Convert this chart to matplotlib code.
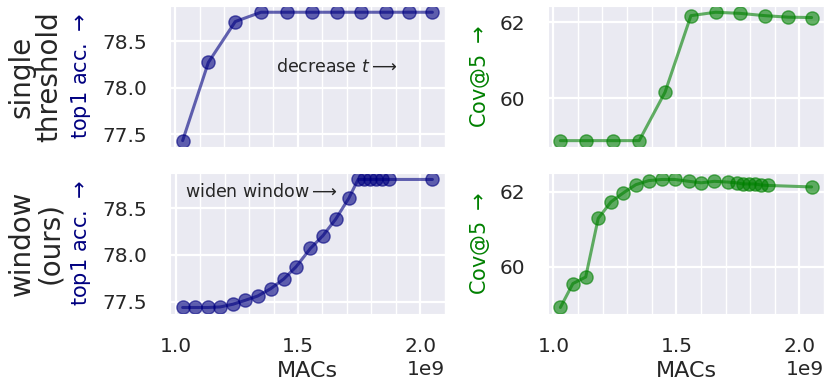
import numpy as np
import matplotlib
matplotlib.use("Agg")
import matplotlib.pyplot as plt
import seaborn as sns
from matplotlib.ticker import MultipleLocator

sns.set_style("darkgrid")
plt.rcParams['font.family'] = ['DejaVu Sans']

# ---------------- data (MACs in units of 1e9) ----------------
thr_macs = [1.03, 1.135, 1.245, 1.35, 1.455, 1.56, 1.66, 1.76, 1.86, 1.955, 2.05]
thr_top1 = [77.43, 78.27, 78.71, 78.81, 78.81, 78.81, 78.81, 78.81, 78.81, 78.81, 78.81]
thr_cov5 = [58.88, 58.88, 58.88, 58.88, 60.16, 62.18, 62.27, 62.24, 62.18, 62.14, 62.13]

win_macs = [1.028, 1.079, 1.131, 1.182, 1.234, 1.284, 1.335, 1.388, 1.442, 1.493,
            1.551, 1.601, 1.654, 1.708, 1.746, 1.770, 1.794, 1.820, 1.845, 1.871, 2.05]
win_top1 = [77.437, 77.437, 77.437, 77.443, 77.472, 77.514, 77.560, 77.638, 77.743, 77.876,
            78.071, 78.204, 78.383, 78.609, 78.81, 78.81, 78.81, 78.81, 78.81, 78.81, 78.81]
win_cov5 = [58.905, 59.545, 59.72, 61.29, 61.73, 61.97, 62.19, 62.30, 62.33, 62.33,
            62.28, 62.24, 62.28, 62.26, 62.24, 62.21, 62.21, 62.21, 62.18, 62.17, 62.13]

row_names = ["single\nthreshold", "window\n(ours)"]
notes = ["decrease $t \\longrightarrow$", "widen window$\\longrightarrow$"]
note_pos = [(1.41e9, 78.22), (1.036e9, 78.68)]

# ---------------- figure ----------------
fig = plt.figure(figsize=(8.3, 3.88), dpi=100)
left_x = [0.205, 0.536]
right_x = [0.660, 0.993]
rows_y = [(0.621, 0.985), (0.191, 0.554)]

blue = "navy"
green = "green"
rows = [(thr_macs, thr_top1, thr_cov5), (win_macs, win_top1, win_cov5)]

for r, (macs, top1, cov5) in enumerate(rows):
    y0, y1 = rows_y[r]
    x = np.array(macs) * 1e9
    axl = fig.add_axes([left_x[0], y0, left_x[1] - left_x[0], y1 - y0])
    axr = fig.add_axes([right_x[0], y0, right_x[1] - right_x[0], y1 - y0])

    axl.plot(x, top1, "o-", color=blue, alpha=0.6, lw=2.2, ms=9.5)
    axr.plot(x, cov5, "o-", color=green, alpha=0.6, lw=2.2, ms=9.5)

    axl.set_ylabel("top1 acc. $\\rightarrow$", color=blue, fontsize=15, labelpad=7)
    axr.set_ylabel("Cov@5 $\\rightarrow$", color=green, fontsize=15, labelpad=5)
    axl.yaxis.set_major_locator(MultipleLocator(0.5))
    axr.yaxis.set_major_locator(MultipleLocator(2))

    for ax in (axl, axr):
        ax.xaxis.set_major_locator(MultipleLocator(0.5e9))
        ax.xaxis.set_minor_locator(MultipleLocator(0.1e9))
        ax.grid(which="major", color="white", lw=1.6)
        ax.grid(which="minor", axis="x", color="white", lw=1.0)
        ax.tick_params(axis="both", which="major", labelsize=14.5, pad=13,
                       labelcolor="#262626")
        ax.xaxis.get_offset_text().set_fontsize(14.5)
        if r == 0:
            ax.tick_params(axis="x", labelbottom=False)
            ax.xaxis.get_offset_text().set_visible(False)
        else:
            ax.set_xlabel("MACs", fontsize=16, labelpad=4, color="#262626")

    axl.text(note_pos[r][0], note_pos[r][1], notes[r], fontsize=12.5,
             color="#262626", va="center", ha="left")

    fig.text(0.043, (y0 + y1) / 2, row_names[r], rotation=90, fontsize=20,
             ha="center", va="center", multialignment="center",
             linespacing=1.0, color="#262626")

fig.savefig("out.png", dpi=100)
